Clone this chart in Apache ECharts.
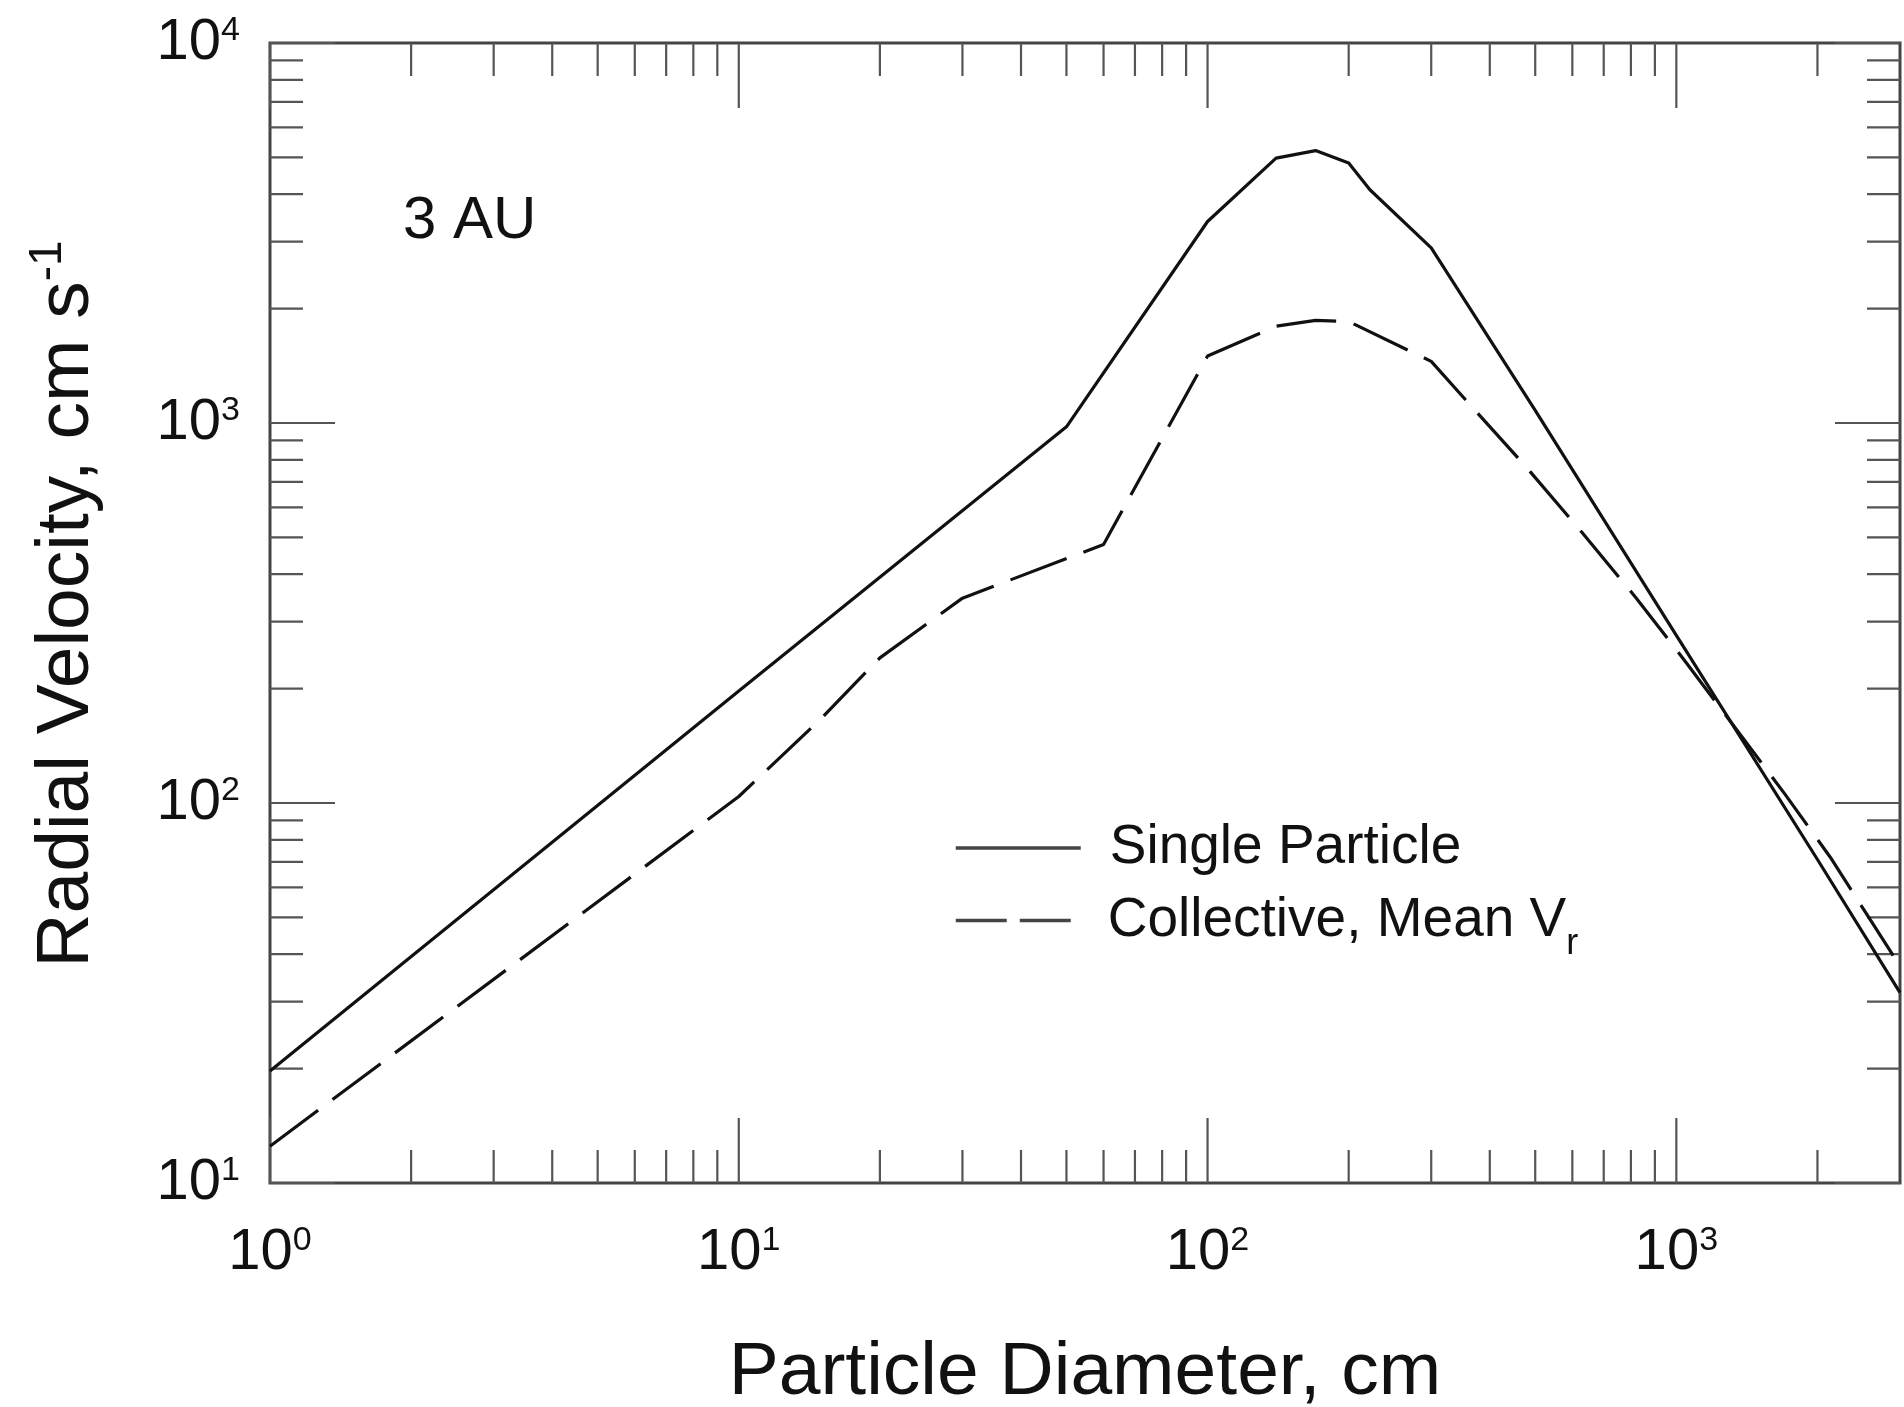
<!DOCTYPE html>
<html><head><meta charset="utf-8">
<script src="https://cdn.jsdelivr.net/npm/echarts@6/dist/echarts.min.js"></script>
<style>html,body{margin:0;padding:0;background:#fff}#c{width:1904px;height:1407px}</style>
</head><body><div id="c"></div><script>
const FONT = '"Liberation Sans", Arial, Helvetica, sans-serif';
const xMin = 1, xMax = 3000, yMin = 10, yMax = 10000;

// Single particle: [diameter cm, radial velocity cm/s]
const singleParticle = [[1,19.7],[10,197],[50,977],[100,3390],[140,4980],[170,5210],[200,4830],[222,4110],[300,2890],[500,1080],[1000,276],[2000,71],[3000,31.7]];
// Collective, mean Vr
const collective = [[1,12.5],[10,104],[15,167],[20,241],[30,346],[60,479],[100,1500],[140,1797],[170,1862],[200,1850],[300,1453],[360,1130],[480,762],[630,514],[820,347],[1050,234],[1700,106],[2130,72],[2600,49],[3000,37.2]];

const xMajorTicks = [1, 10, 100, 1000];
const xMinorTicks = [2,3,4,5,6,7,8,9,20,30,40,50,60,70,80,90,200,300,400,500,600,700,800,900,2000];
const yMajorTicks = [10, 100, 1000, 10000];
const yMinorTicks = [20,30,40,50,60,70,80,90,200,300,400,500,600,700,800,900,2000,3000,4000,5000,6000,7000,8000,9000];
const labelExponents = [0, 1, 2, 3, 4];

function powLabel(v) {
  const e = Math.round(Math.log10(v));
  if (labelExponents.indexOf(e) < 0) return '';
  if (Math.abs(v - Math.pow(10, e)) > 1e-6 * v) return '';
  return '{b|10}{s|' + e + '}';
}

function tickSeries(values, axis, len) {
  return {
    type: 'custom', silent: true, z: 4, clip: false,
    data: values.map(v => axis === 'x' ? [v, yMin] : [xMin, v]),
    renderItem: function (params, api) {
      const style = { stroke: '#555', lineWidth: 2.2 };
      if (axis === 'x') {
        const v = api.value(0);
        const b = api.coord([v, yMin]), t = api.coord([v, yMax]);
        return { type: 'group', children: [
          { type: 'line', shape: { x1: b[0], y1: b[1], x2: b[0], y2: b[1] - len }, style },
          { type: 'line', shape: { x1: t[0], y1: t[1], x2: t[0], y2: t[1] + len }, style }
        ]};
      } else {
        const v = api.value(1);
        const l = api.coord([xMin, v]), r = api.coord([xMax, v]);
        return { type: 'group', children: [
          { type: 'line', shape: { x1: l[0], y1: l[1], x2: l[0] + len, y2: l[1] }, style },
          { type: 'line', shape: { x1: r[0], y1: r[1], x2: r[0] - len, y2: r[1] }, style }
        ]};
      }
    }
  };
}

const labelRich = {
  b: { fontSize: 58, fontFamily: FONT, color: '#111' },
  s: { fontSize: 34, fontFamily: FONT, color: '#111', verticalAlign: 'top', lineHeight: 34 }
};

const chart = echarts.init(document.getElementById('c'));
chart.setOption({
  animation: false,
  backgroundColor: '#fff',
  grid: { left: 270, right: 4, top: 43, bottom: 224, show: true, borderColor: '#444', borderWidth: 3, outerBoundsMode: 'none', containLabel: false },
  xAxis: {
    type: 'log', logBase: 10, min: xMin, max: xMax,
    axisLine: { show: false }, axisTick: { show: false }, splitLine: { show: false },
    axisLabel: { formatter: powLabel, margin: 41, rich: labelRich, showMinLabel: true, showMaxLabel: true },
    name: 'Particle Diameter, cm', nameLocation: 'middle', nameGap: 153,
    nameTextStyle: { fontSize: 75, fontFamily: FONT, color: '#111' }
  },
  yAxis: {
    type: 'log', logBase: 10, min: yMin, max: yMax,
    axisLine: { show: false }, axisTick: { show: false }, splitLine: { show: false },
    axisLabel: { formatter: powLabel, margin: 30, rich: labelRich, showMinLabel: true, showMaxLabel: true },
    name: '{m|Radial Velocity, cm s}{sup|-1}', nameLocation: 'middle', nameGap: 170,
    nameTextStyle: { color: '#111', rich: {
      m: { fontSize: 75, fontFamily: FONT, color: '#111', lineHeight: 75, padding: [9, 0, 0, 18] },
      sup: { fontSize: 46, fontFamily: FONT, color: '#111', lineHeight: 46, verticalAlign: 'top' }
    } }
  },
  legend: [
    { data: ['Single Particle'], left: 954, top: 818, padding: 0, itemWidth: 125, itemHeight: 14, selectedMode: false,
      itemStyle: { opacity: 0 },
      lineStyle: { color: '#444', width: 3.5 },
      textStyle: { fontSize: 55, fontFamily: FONT, color: '#111', lineHeight: 60, padding: [0, 0, 0, 24] } },
    { data: ['Collective, Mean Vr'], left: 954, top: 879, padding: 0, itemWidth: 117, itemHeight: 14, selectedMode: false,
      itemStyle: { opacity: 0 },
      lineStyle: { color: '#444', width: 3.5, type: [51, 13] },
      formatter: () => 'Collective, Mean V{sub|r}',
      textStyle: { fontSize: 55, fontFamily: FONT, color: '#111', lineHeight: 60, padding: [0, 0, 0, 30],
        rich: { sub: { fontSize: 36, fontFamily: FONT, color: '#111', lineHeight: 36, padding: [47, 0, 0, 0] } } } }
  ],
  graphic: [
    { type: 'text', x: 403, y: 221, style: { text: '3 AU', fontSize: 60, fontFamily: FONT, fill: '#111', verticalAlign: 'middle', align: 'left' } }
  ],
  series: [
    tickSeries(xMajorTicks, 'x', 65),
    tickSeries(xMinorTicks, 'x', 33),
    tickSeries(yMajorTicks, 'y', 65),
    tickSeries(yMinorTicks, 'y', 33),
    { type: 'line', name: 'Single Particle', data: singleParticle, symbol: 'none', z: 5,
      itemStyle: { color: '#111' }, lineStyle: { color: '#111', width: 3.2 } },
    { type: 'line', name: 'Collective, Mean Vr', data: collective, symbol: 'none', z: 5,
      itemStyle: { color: '#111' }, lineStyle: { color: '#111', width: 3.2, type: [60, 18] } }
  ]
});
</script></body></html>
